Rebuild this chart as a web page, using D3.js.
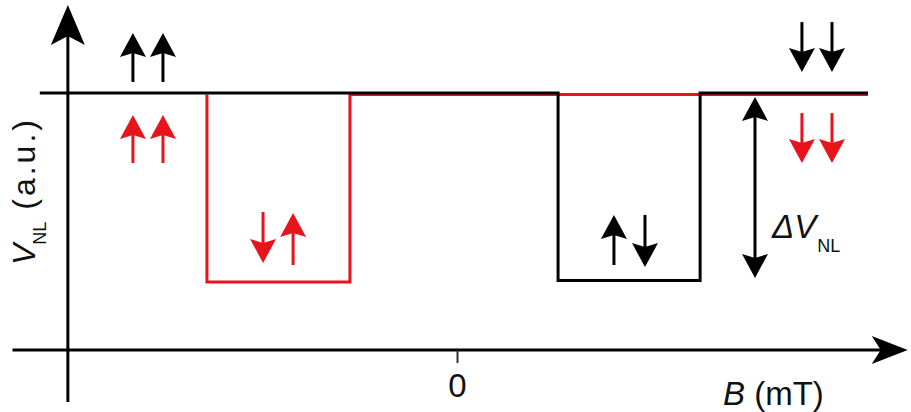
<!DOCTYPE html>
<html>
<head>
<meta charset="utf-8">
<script src="https://cdn.jsdelivr.net/npm/d3@7"></script>
<style>
  html, body { margin: 0; padding: 0; background: #fff; }
  svg { display: block; font-family: "Liberation Sans", Arial, sans-serif; }
</style>
</head>
<body>
<svg id="chart" width="911" height="412"></svg>
<script>
// ---- data ----
// field sweep (B in mT, arbitrary) and non-local voltage level (a.u.)
const blackB = [-16.8, 4.07, 9.79, 16.55];
const blackV = [1, 0, 1, 1];
const redB   = [-10.07, -10.07, -4.31, 16.55];
const redV   = [1, 0, 1, 1];

const xTickValues = [0];
const xTickLabels = ["0"];
const xLabel = "(mT)";
const xLabelVar = "B";
const yLabelVar = "V";
const yLabelSub = "NL";
const yLabelUnit = " (a.u.)";

// spin-state annotation arrows: B position, start V, tip V, colour
const spinB     = [-13.05, -11.84, -13.05, -11.84, -7.81, -6.6, 6.32, 7.57, 13.89, 15.1, 13.89, 15.1];
const spinFrom  = [1.059, 1.059, 0.627, 0.627, 0.366, 0.083, 0.083, 0.350, 1.378, 1.378, 0.893, 0.893];
const spinTo    = [1.320, 1.320, 0.883, 0.883, 0.094, 0.360, 0.350, 0.072, 1.112, 1.112, 0.627, 0.627];
const spinColor = ["black","black","red","red","red","red","black","black","black","black","red","red"];

// ΔV_NL double arrow
const deltaB = 12.0;
const deltaV = [0.979, 0.014];

const RED = "#e8141c";
const BLACK = "#000";

// ---- scales ----
const svg = d3.select("#chart");
const x = d3.scaleLinear().domain([-18, 18]).range([10, 904]);
const y = d3.scaleLinear().domain([-0.37, 1]).range([350, 93]);

const yAxisB = -15.67;       // where the vertical axis crosses
const yAxisRange = [-0.647, 1.469];

function head(g, px, py, dir, size, half, notch, color) {
  const [dx, dy] = dir;
  const nx = -dy, ny = dx;
  const bx = px - dx * size, by = py - dy * size;
  const p = [
    [px, py],
    [bx + nx * half, by + ny * half],
    [px - dx * (size - notch), py - dy * (size - notch)],
    [bx - nx * half, by - ny * half]
  ];
  g.append("path").attr("d", "M" + p.map(q => q.join(",")).join("L") + "Z").attr("fill", color);
}

// ---- axes ----
const axes = svg.append("g");
const xAxisY = y(-0.37);
axes.append("line")
  .attr("x1", x(-17.9)).attr("x2", x(17.4)).attr("y1", xAxisY).attr("y2", xAxisY)
  .attr("stroke", BLACK).attr("stroke-width", 3);
head(axes, x(18.15), xAxisY, [1, 0], 36, 14, 9, BLACK);

axes.append("line")
  .attr("x1", x(yAxisB)).attr("x2", x(yAxisB))
  .attr("y1", y(yAxisRange[0])).attr("y2", y(yAxisRange[1] - 0.15))
  .attr("stroke", BLACK).attr("stroke-width", 3);
head(axes, x(yAxisB), y(yAxisRange[1]), [0, -1], 40, 17, 9, BLACK);

const xAxis = d3.axisBottom(x).tickValues(xTickValues)
  .tickFormat((d, i) => xTickLabels[i]).tickSize(13).tickPadding(10.6);
const gx = svg.append("g").attr("transform", `translate(0,${xAxisY})`).call(xAxis);
gx.select(".domain").remove();
gx.selectAll(".tick line").attr("stroke", "#333").attr("stroke-width", 2);
gx.selectAll(".tick text").attr("font-size", 33).attr("fill", "#111")
  .attr("font-family", "Liberation Sans, Arial, sans-serif");

const xl = svg.append("text").attr("x", 723).attr("y", 405)
  .attr("font-size", 33).attr("fill", "#111");
xl.append("tspan").attr("font-style", "italic").text(xLabelVar);
xl.append("tspan").text(" " + xLabel);

const yl = svg.append("text")
  .attr("transform", "translate(35,265) rotate(-90)")
  .attr("font-size", 32).attr("fill", "#111");
yl.append("tspan").attr("font-style", "italic").text(yLabelVar);
yl.append("tspan").attr("font-size", 18).attr("dx", -1).attr("dy", 11).text(yLabelSub);
yl.append("tspan").attr("dy", -11).attr("letter-spacing", 3).text(yLabelUnit);

// ---- signal lines ----
const line = d3.line().x(d => x(d[0])).y(d => y(d[1])).curve(d3.curveStepAfter);
svg.append("path")
  .datum(redB.map((b, i) => [b, redV[i]]))
  .attr("d", line).attr("transform", "translate(0,1.5)")
  .attr("fill", "none").attr("stroke", RED).attr("stroke-width", 3);
svg.append("path")
  .datum(blackB.map((b, i) => [b, blackV[i]]))
  .attr("d", line)
  .attr("fill", "none").attr("stroke", BLACK).attr("stroke-width", 3);

// ---- spin arrows ----
const ann = svg.append("g");
spinB.forEach((b, i) => {
  const col = spinColor[i] === "red" ? RED : BLACK;
  const px = x(b), y0 = y(spinFrom[i]), y1 = y(spinTo[i]);
  const dir = y1 < y0 ? -1 : 1;
  ann.append("line").attr("x1", px).attr("x2", px)
    .attr("y1", y0).attr("y2", y1 - dir * 15)
    .attr("stroke", col).attr("stroke-width", 3);
  head(ann, px, y1, [0, dir], 24, 13, 4, col);
});

const dx0 = x(deltaB), dTop = y(deltaV[0]), dBot = y(deltaV[1]);
ann.append("line").attr("x1", dx0).attr("x2", dx0)
  .attr("y1", dTop + 15).attr("y2", dBot - 15)
  .attr("stroke", BLACK).attr("stroke-width", 3);
head(ann, dx0, dTop, [0, -1], 24, 13, 4, BLACK);
head(ann, dx0, dBot, [0, 1], 24, 13, 4, BLACK);

const dl = svg.append("text").attr("x", 772).attr("y", 238)
  .attr("font-size", 33).attr("fill", "#111");
dl.append("tspan").attr("font-style", "italic").text("ΔV");
dl.append("tspan").attr("font-size", 18).attr("dx", 1).attr("dy", 14).text("NL");
</script>
</body>
</html>
